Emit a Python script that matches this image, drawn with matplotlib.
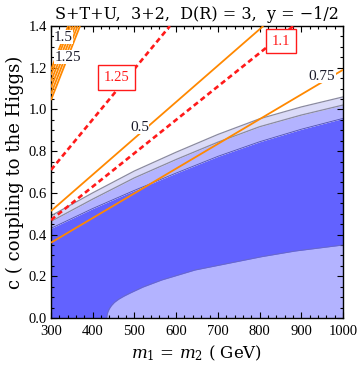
import matplotlib
matplotlib.use("Agg")
import matplotlib.pyplot as plt
import numpy as np
from matplotlib.ticker import MultipleLocator

plt.rcParams['font.family'] = ['Liberation Serif', 'DejaVu Serif']
plt.rcParams['mathtext.fontset'] = 'dejavuserif'

# ---------------- data ----------------
# exclusion bands (upper edges), m in GeV, c dimensionless
band_m = [300, 400, 500, 600, 700, 800, 900, 1000]
dark_top = [0.43, 0.525, 0.612, 0.695, 0.775, 0.845, 0.905, 0.957]
mid_edge = [0.463, 0.57, 0.672, 0.76, 0.843, 0.917, 0.973, 1.021]
upper_edge = [0.49, 0.60, 0.705, 0.795, 0.88, 0.955, 1.012, 1.06]

# lower light region (boundary)
low_m = [433.5, 434.5, 436.5, 440, 445, 452, 462, 475, 490, 520, 565, 645, 725, 805, 885, 1000]
low_c = [0.0, 0.016, 0.03, 0.045, 0.06, 0.075, 0.09, 0.105, 0.12, 0.148, 0.182, 0.23, 0.262, 0.294, 0.321, 0.35]

# orange contour lines (start point, end point)
orange_m = [[300, 1000], [300, 809],
            [300, 369.6], [300, 363.7], [300, 357.8], [300, 352.0], [300, 346.0], [300, 341.0]]
orange_c = [[0.361, 1.19], [0.513, 1.4],
            [1.045, 1.4], [1.075, 1.4], [1.105, 1.4], [1.135, 1.4], [1.165, 1.4], [1.19, 1.4]]
orange_labels = ["0.75", "0.5", "1.5", "1.25"]
orange_label_m = [950, 512, 330, 341]
orange_label_c = [1.16, 0.915, 1.347, 1.251]

# red dashed contour lines
red_m = [[300, 585], [300, 881]]
red_c = [[0.71, 1.4], [0.47, 1.4]]
red_labels = ["1.25", "1.1"]
red_label_m = [458, 852]
red_label_c = [1.153, 1.328]

title = "S+T+U,  3+2,  D(R) = 3,  y = \u22121/2"
xlabel = r"$m_1$ = $m_2$ ( GeV)"
ylabel = "c ( coupling to the Higgs)"
xticks = [300, 400, 500, 600, 700, 800, 900, 1000]
yticks = [0.0, 0.2, 0.4, 0.6, 0.8, 1.0, 1.2, 1.4]

# ---------------- colors ----------------
dark_blue = "#6262ff"
mid_blue = "#b3b3ff"
light_blue = "#dadaf8"
orange = "#ff8800"
red = "#ff1a1a"

fig = plt.figure(figsize=(3.6, 3.65), dpi=100)
ax = fig.add_axes([51/360, 1-318/365, 292/360, 292/365])

ax.fill_between(band_m, 0, dark_top, color=dark_blue, lw=0, zorder=1)
ax.fill_between(band_m, dark_top, mid_edge, color=mid_blue, lw=0, zorder=1)
ax.fill_between(band_m, mid_edge, upper_edge, color=light_blue, lw=0, zorder=1)
ax.plot(band_m, upper_edge, color="#8a8aa0", lw=0.9, zorder=2)
ax.plot(band_m, mid_edge, color="#8a8aa0", lw=0.9, zorder=2)
ax.plot(band_m, dark_top, color="#5050b0", lw=0.6, zorder=2)

ax.fill_between(low_m, 0, low_c, color=mid_blue, lw=0, zorder=1.5)
ax.plot(low_m, low_c, color="#6a6ac0", lw=0.6, zorder=2)

for xs, ys in zip(orange_m, orange_c):
    ax.plot(xs, ys, color=orange, lw=1.3, zorder=3, solid_capstyle='butt')
for xs, ys in zip(red_m, red_c):
    ax.plot(xs, ys, color=red, lw=1.9, ls=(0, (2.0, 1.3)), zorder=3)

for t, xm, yc in zip(orange_labels, orange_label_m, orange_label_c):
    ax.text(xm, yc, t, fontsize=11, color="#1a1a2a", ha='center', va='center', zorder=5,
            bbox=dict(facecolor='white', edgecolor='none', pad=0.3))
for t, xm, yc in zip(red_labels, red_label_m, red_label_c):
    ax.text(xm, yc, t, fontsize=10.5, color=red, ha='center', va='center', zorder=5,
            bbox=dict(facecolor='white', edgecolor=red, lw=1.0, pad=4))

ax.set_xlim(300, 1000)
ax.set_ylim(0, 1.4)
ax.set_xticks(xticks)
ax.set_yticks(yticks)
ax.set_yticklabels([f"{v:.1f}" for v in yticks])
ax.xaxis.set_minor_locator(MultipleLocator(20))
ax.yaxis.set_minor_locator(MultipleLocator(0.05))
ax.tick_params(which='both', direction='in', top=True, right=True, labelsize=10.5, width=0.8)
ax.tick_params(which='major', length=4, pad=3)
ax.tick_params(axis='x', which='major', pad=5)
ax.tick_params(which='minor', length=2)
for s in ax.spines.values():
    s.set_linewidth(1.0)

ax.set_title(title, fontsize=11.5, pad=5, family='DejaVu Serif')
ax.set_xlabel(xlabel, fontsize=12, labelpad=4, family='DejaVu Serif')
ax.set_ylabel(ylabel, fontsize=13, labelpad=3, family='DejaVu Serif')

fig.savefig("out.png", dpi=100)
